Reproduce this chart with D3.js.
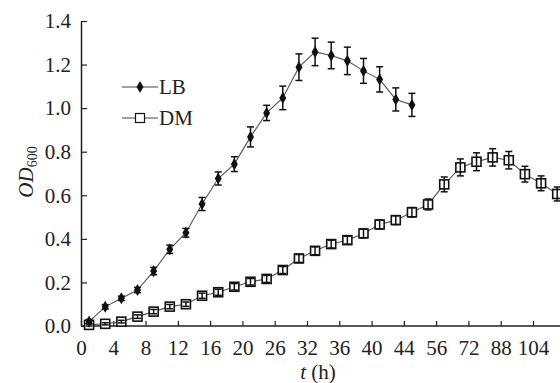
<!DOCTYPE html>
<html>
<head>
<meta charset="utf-8">
<script src="https://cdn.jsdelivr.net/npm/d3@7"></script>
<style>
  body { margin: 0; background: #fff; }
  svg { display: block; font-family: "Liberation Serif", "Times New Roman", serif; }
</style>
</head>
<body>
<div id="chart"></div>
<script>
const tickLabels = ["0", "4", "8", "12", "16", "20", "26", "32", "36", "40", "44", "56", "72", "88", "104"];
const yTicks = [0, 0.2, 0.4, 0.6, 0.8, 1.0, 1.2, 1.4];

// OD600 per sampling point (in order along the category axis)
const lbValues = [0.02, 0.088, 0.127, 0.165, 0.252, 0.352, 0.428, 0.56, 0.677, 0.743, 0.868,
  0.978, 1.047, 1.188, 1.258, 1.242, 1.217, 1.171, 1.132, 1.04, 1.015];
const lbErrors = [0.01, 0.01, 0.01, 0.012, 0.017, 0.019, 0.02, 0.03, 0.03, 0.034, 0.046,
  0.035, 0.054, 0.061, 0.063, 0.061, 0.063, 0.057, 0.058, 0.053, 0.053];
const dmValues = [0.005, 0.01, 0.02, 0.043, 0.066, 0.089, 0.1, 0.139, 0.155, 0.18, 0.203,
  0.216, 0.257, 0.31, 0.345, 0.376, 0.394, 0.425, 0.466, 0.486, 0.522, 0.558, 0.65,
  0.728, 0.754, 0.774, 0.761, 0.697, 0.655, 0.606];
const dmErrors = [0.005, 0.005, 0.006, 0.008, 0.01, 0.01, 0.01, 0.012, 0.014, 0.015, 0.015,
  0.016, 0.016, 0.018, 0.018, 0.018, 0.018, 0.02, 0.02, 0.02, 0.022, 0.025, 0.034,
  0.039, 0.041, 0.04, 0.04, 0.036, 0.034, 0.032];

const width = 560;
const height = 383;
const marginLeft = 81;
const marginBottom = 57;
const marginTop = 21;
const fontSize = 21;

const x = d3.scaleLinear()
  .domain([0, 28])
  .range([marginLeft, 533]);
const y = d3.scaleLinear()
  .domain([0, 1.4])
  .range([height - marginBottom, marginTop]);

const svg = d3.select("#chart").append("svg")
  .attr("width", width)
  .attr("height", height)
  .attr("viewBox", [0, 0, width, height]);

const lbData = lbValues.map((v, i) => ({i, v, e: lbErrors[i]}));
const dmData = dmValues.map((v, i) => ({i, v, e: dmErrors[i]}));

// x axis (category style, labels every second sample)
svg.append("g")
  .attr("transform", `translate(0,${y(0)})`)
  .call(d3.axisBottom(x)
    .tickValues(d3.range(0, 29, 2))
    .tickFormat((d, i) => tickLabels[i])
    .tickSizeInner(-5)
    .tickSizeOuter(0)
    .tickPadding(14))
  .call(g => g.select(".domain").remove())
  .call(g => g.append("line")
    .attr("x1", x(0)).attr("x2", width)
    .attr("stroke", "#222").attr("stroke-width", 1.5))
  .call(g => g.selectAll(".tick line").attr("stroke", "#222").attr("stroke-width", 1.2))
  .call(g => g.selectAll(".tick text")
    .attr("font-size", fontSize).attr("fill", "#222")
    .attr("font-family", "Liberation Serif"));

svg.append("g")
  .attr("transform", `translate(${marginLeft},0)`)
  .call(d3.axisLeft(y)
    .tickValues(yTicks)
    .tickFormat(d3.format(".1f"))
    .tickSizeInner(-6)
    .tickSizeOuter(0)
    .tickPadding(10))
  .call(g => g.select(".domain").attr("stroke", "#222").attr("stroke-width", 1.5))
  .call(g => g.selectAll(".tick line").attr("stroke", "#222").attr("stroke-width", 1.2))
  .call(g => g.selectAll(".tick text")
    .attr("font-size", fontSize).attr("fill", "#222")
    .attr("font-family", "Liberation Serif"));

// axis titles
svg.append("text")
  .attr("x", 318)
  .attr("y", 379)
  .attr("text-anchor", "middle")
  .attr("font-size", fontSize)
  .attr("fill", "#222")
  .html('<tspan font-style="italic">t</tspan> (h)');

svg.append("text")
  .attr("transform", "translate(33,172) rotate(-90)")
  .attr("text-anchor", "middle")
  .attr("font-size", fontSize)
  .attr("fill", "#222")
  .html('<tspan font-style="italic">OD</tspan><tspan font-size="14" dy="4">600</tspan>');

const cx = d => x(d.i + 0.5);
const line = d3.line().x(cx).y(d => y(d.v));

function drawSeries(data, kind) {
  const g = svg.append("g");
  g.append("path")
    .datum(data)
    .attr("fill", "none")
    .attr("stroke", "#555")
    .attr("stroke-width", 1.1)
    .attr("d", line);
  if (kind === "diamond") {
    g.selectAll(".m").data(data).join("path")
      .attr("transform", d => `translate(${cx(d)},${y(d.v)})`)
      .attr("d", d3.symbol(d3.symbolDiamond, 42))
      .attr("fill", "#111");
  } else {
    g.selectAll(".m").data(data).join("rect")
      .attr("x", d => cx(d) - 4.5)
      .attr("y", d => y(d.v) - 4.5)
      .attr("width", 9)
      .attr("height", 9)
      .attr("fill", "#fff")
      .attr("stroke", "#111")
      .attr("stroke-width", 1.6);
  }
  const eb = g.selectAll(".eb").data(data).join("g").attr("stroke", "#111").attr("stroke-width", 1.5);
  eb.append("line")
    .attr("x1", cx).attr("x2", cx)
    .attr("y1", d => y(d.v - d.e)).attr("y2", d => y(d.v + d.e));
  eb.append("line")
    .attr("x1", d => cx(d) - 3.5).attr("x2", d => cx(d) + 3.5)
    .attr("y1", d => y(d.v + d.e)).attr("y2", d => y(d.v + d.e));
  eb.append("line")
    .attr("x1", d => cx(d) - 3.5).attr("x2", d => cx(d) + 3.5)
    .attr("y1", d => y(d.v - d.e)).attr("y2", d => y(d.v - d.e));
}

drawSeries(dmData, "square");
drawSeries(lbData, "diamond");

// legend
const legend = svg.append("g").attr("font-size", fontSize).attr("fill", "#222");
[{name: "LB", kind: "diamond", yy: 87}, {name: "DM", kind: "square", yy: 118}].forEach(item => {
  legend.append("line")
    .attr("x1", 122).attr("x2", 158)
    .attr("y1", item.yy).attr("y2", item.yy)
    .attr("stroke", "#444").attr("stroke-width", 1.2);
  if (item.kind === "diamond") {
    legend.append("path")
      .attr("transform", `translate(140,${item.yy})`)
      .attr("d", d3.symbol(d3.symbolDiamond, 42))
      .attr("fill", "#111");
  } else {
    legend.append("rect")
      .attr("x", 135.5).attr("y", item.yy - 4.5)
      .attr("width", 9).attr("height", 9)
      .attr("fill", "#fff").attr("stroke", "#111").attr("stroke-width", 1.2);
  }
  legend.append("text")
    .attr("x", 159)
    .attr("y", item.yy + 7)
    .text(item.name);
});
</script>
</body>
</html>
